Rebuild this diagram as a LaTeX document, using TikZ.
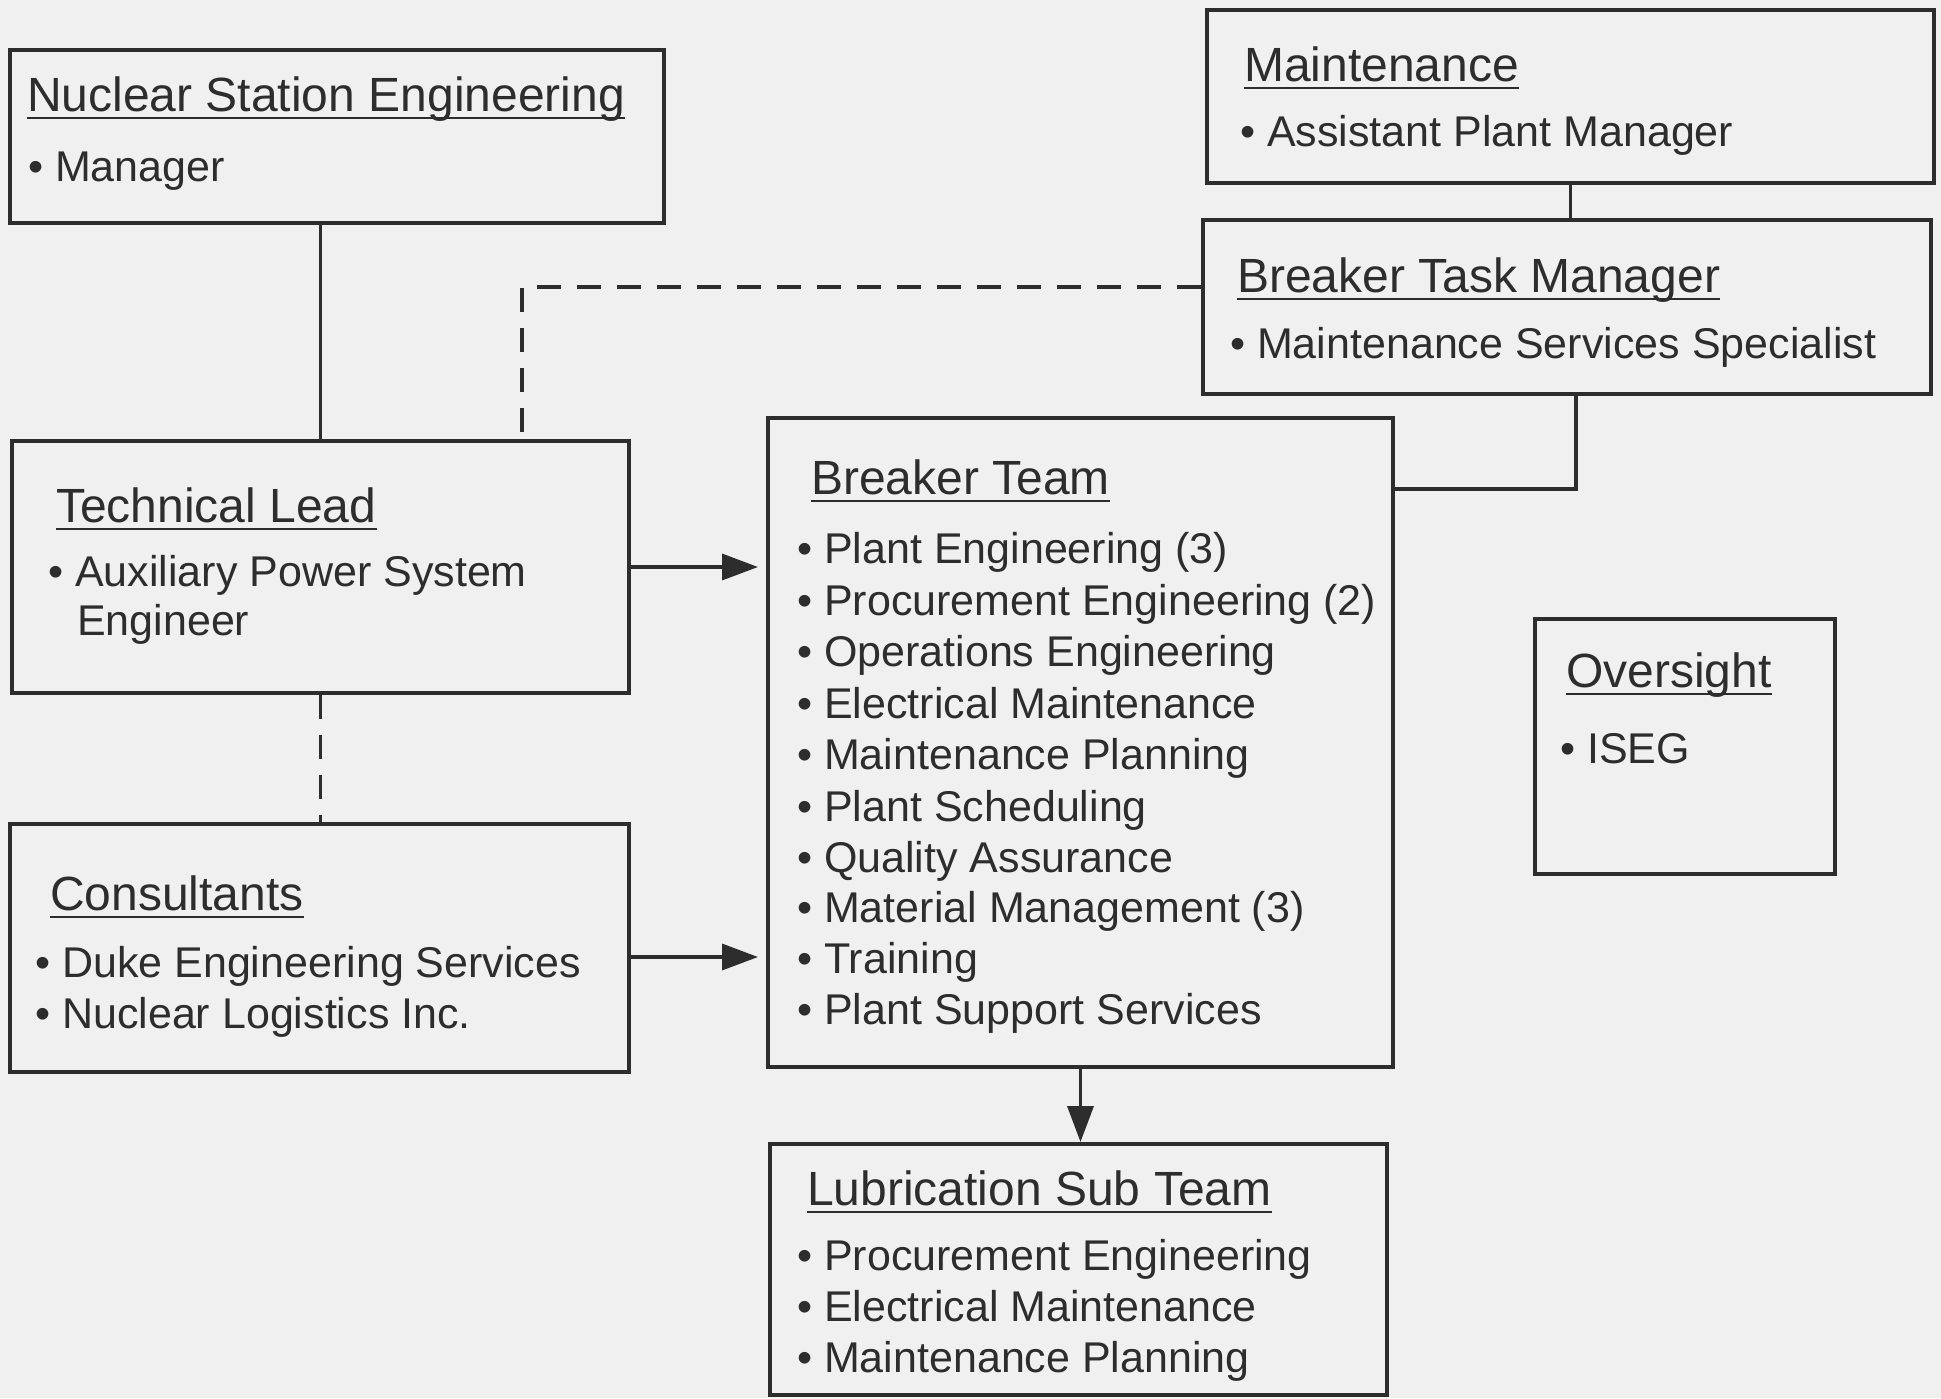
\documentclass[tikz,border=0pt]{standalone}
\usepackage{fontspec}
\setmainfont{Liberation Sans}
\usetikzlibrary{arrows.meta}
\definecolor{ink}{RGB}{45,45,45}
\definecolor{paper}{RGB}{240,240,240}
\begin{document}
\begin{tikzpicture}[x=1pt,y=-1pt,
  box/.style={draw=ink, line width=4pt, inner sep=0pt},
  ttl/.style={anchor=base west, inner sep=0pt, text=ink, font=\fontsize{48}{58}\selectfont},
  itm/.style={anchor=base west, inner sep=0pt, text=ink, font=\fontsize{43}{51}\selectfont},
  conn/.style={draw=ink, line width=3.5pt},
  dconn/.style={conn, dash pattern=on 24pt off 16pt},
  arr/.style={conn, -{Triangle[length=36pt,width=26pt]}},
  uline/.style={draw=ink, line width=2pt}]
\fill[paper] (0,0) rectangle (1941,1398);
\useasboundingbox (0,0) rectangle (1941,1398);

% boxes
\node[box, minimum width=654pt, minimum height=173pt] (nse) at (337,136.5) {};
\node[box, minimum width=727pt, minimum height=173pt] (maint) at (1570.5,96.5) {};
\node[box, minimum width=728pt, minimum height=174pt] (btm) at (1567,307) {};
\node[box, minimum width=617pt, minimum height=252pt] (tl) at (320.5,567) {};
\node[box, minimum width=619pt, minimum height=248pt] (cons) at (319.5,948) {};
\node[box, minimum width=625pt, minimum height=649pt] (bt) at (1080.5,742.5) {};
\node[box, minimum width=300pt, minimum height=255pt] (over) at (1685,746.5) {};
\node[box, minimum width=617pt, minimum height=251pt] (lst) at (1078.5,1269.5) {};

% texts
\node[ttl] (nseT) at (27,111) {Nuclear Station Engineering};
\node[itm] (nse1) at (28,181) {• Manager};

\node[ttl] (maintT) at (1244,81) {Maintenance};
\node[itm] (maint1) at (1240,146) {• Assistant Plant Manager};

\node[ttl] (btmT) at (1237,292) {Breaker Task Manager};
\node[itm] (btm1) at (1230,358) {• Maintenance Services Specialist};

\node[ttl] (tlT) at (56,522) {Technical Lead};
\node[itm] (tl1) at (48,586) {• Auxiliary Power System};
\node[itm] (tl2) at (77,635) {Engineer};

\node[ttl] (consT) at (50,910) {Consultants};
\node[itm] (cons1) at (35,977) {• Duke Engineering Services};
\node[itm] (cons2) at (35,1028) {• Nuclear Logistics Inc.};

\node[ttl] (btT) at (811,494) {Breaker Team};
\node[itm] (bt1) at (797,563) {• Plant Engineering (3)};
\node[itm] (bt2) at (797,615) {• Procurement Engineering (2)};
\node[itm] (bt3) at (797,666) {• Operations Engineering};
\node[itm] (bt4) at (797,718) {• Electrical Maintenance};
\node[itm] (bt5) at (797,769) {• Maintenance Planning};
\node[itm] (bt6) at (797,821) {• Plant Scheduling};
\node[itm] (bt7) at (797,872) {• Quality Assurance};
\node[itm] (bt8) at (797,922) {• Material Management (3)};
\node[itm] (bt9) at (797,973) {• Training};
\node[itm] (bt10) at (797,1024) {• Plant Support Services};

\node[ttl] (overT) at (1566,687) {Oversight};
\node[itm] (over1) at (1560,763) {• ISEG};

\node[ttl] (lstT) at (807,1205) {Lubrication Sub Team};
\node[itm] (lst1) at (797,1270) {• Procurement Engineering};
\node[itm] (lst2) at (797,1321) {• Electrical Maintenance};
\node[itm] (lst3) at (797,1372) {• Maintenance Planning};

% underlines
\foreach \t in {nseT,maintT,btmT,tlT,consT,btT,overT,lstT}
  \draw[uline] ([yshift=-7pt]\t.base west) -- ([yshift=-7pt]\t.base east);

% connectors
\draw[conn] (tl.north |- nse.south) -- (tl.north);
\draw[conn] (maint.south) -- (maint.south |- btm.north);
\coordinate (k1) at (1576,489);
\draw[conn] (k1 |- btm.south) -- (k1) -- (k1 -| bt.east);
\coordinate (d1) at (522,287);
\draw[dconn] (d1 -| btm.west) -- (d1) -- (d1 |- tl.north);
\draw[dconn] (tl.south) -- (tl.south |- cons.north);
\draw[arr, shorten >=8pt] (tl.east) -- (tl.east -| bt.west);
\draw[arr, shorten >=8pt] ([yshift=-9pt]cons.east) -- ([yshift=-9pt]cons.east -| bt.west);
\draw[arr] (bt.south) -- (bt.south |- lst.north);
\end{tikzpicture}
\end{document}
